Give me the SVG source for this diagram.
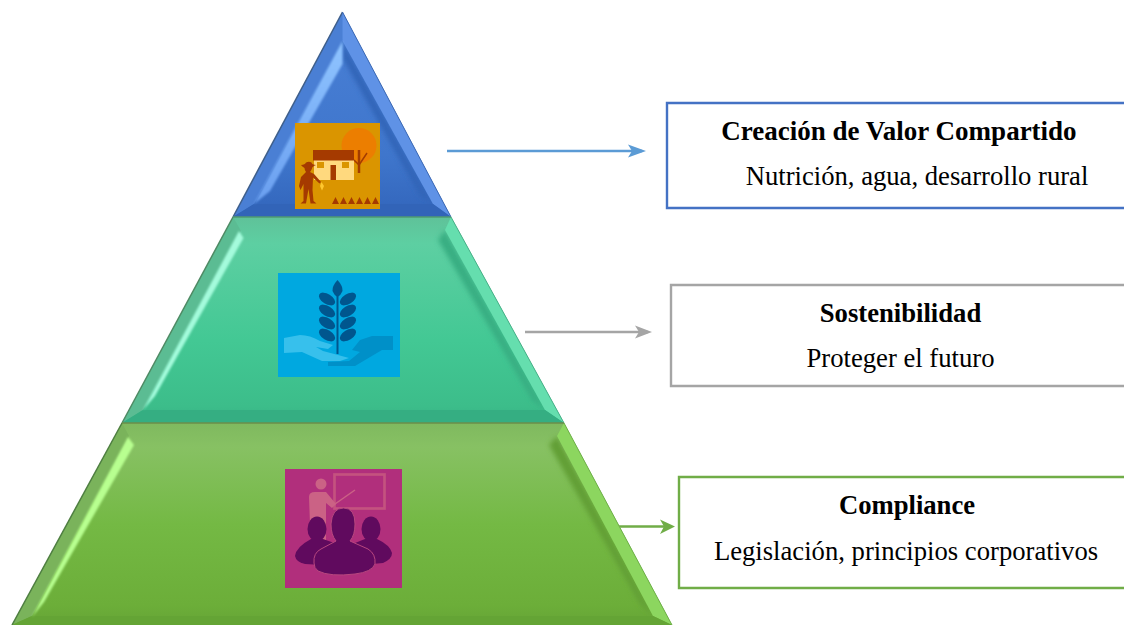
<svg xmlns="http://www.w3.org/2000/svg" width="1124" height="625" viewBox="0 0 1124 625">
<style>
text{font-family:"Liberation Serif","Times New Roman",serif;font-size:26.67px;fill:#000;text-anchor:middle}
.b{font-weight:bold}
.box{fill:#fff;stroke-width:2.4}
.c{fill:none;stroke-width:2.4}
</style>
<defs>
<linearGradient id="gb" x1="0" y1="0" x2="0" y2="1"><stop offset="0" stop-color="#4a80d6"/><stop offset=".7" stop-color="#3f76cc"/><stop offset=".93" stop-color="#3569bf"/><stop offset="1" stop-color="#2f60b4"/></linearGradient>
<linearGradient id="gt" x1="0" y1="0" x2="0" y2="1"><stop offset="0" stop-color="#5fc299"/><stop offset=".13" stop-color="#5dcfa2"/><stop offset=".6" stop-color="#43c894"/><stop offset=".92" stop-color="#3cbd8a"/><stop offset="1" stop-color="#35b083"/></linearGradient>
<linearGradient id="gg" x1="0" y1="0" x2="0" y2="1"><stop offset="0" stop-color="#7fb95f"/><stop offset=".12" stop-color="#87c163"/><stop offset=".5" stop-color="#74b944"/><stop offset=".9" stop-color="#6cae39"/><stop offset="1" stop-color="#66a536"/></linearGradient>
<linearGradient id="hb" x1="0" y1="0" x2="0" y2="1"><stop offset="0" stop-color="#8fc4ff"/><stop offset="1" stop-color="#6a9ff0"/></linearGradient>
<filter id="blur" x="-30%" y="-30%" width="160%" height="160%"><feGaussianBlur stdDeviation="1"/></filter>
<filter id="soft" x="-30%" y="-30%" width="160%" height="160%"><feGaussianBlur stdDeviation="2.500"/></filter>
</defs>
<g id="connectors">
<g stroke="#5b9bd5" fill="#5b9bd5"><path class="c" d="M447 151H642"/><path d="M628 144.500L646 151L628 157.500L632 151Z" stroke="none"/></g>
<g stroke="#a5a5a5" fill="#a5a5a5"><path class="c" d="M525 332H648"/><path d="M635 325.500L652 332L635 338.500L639 332Z" stroke="none"/></g>
<g stroke="#70ad47" fill="#70ad47"><path class="c" d="M618 526.500H671"/><path d="M660 519.500L675 526.500L660 534L664 526.500Z" stroke="none"/></g>
</g>
<g id="node-top">
<path d="M342.500 12L451 217H233Z" fill="url(#gb)"/>
<path d="M342.500 41L433 204L420 196L342.500 58Z" fill="#3365b8" filter="url(#soft)"/>
<path d="M342.500 12L342.500 41L254 204L233 217Z" fill="#4a7fd4"/>
<path d="M342.500 12L342.500 41L433 204L451 217Z" fill="#5f92e6"/>
<path d="M254 204H433L451 217H233Z" fill="#3264b8"/>
<path d="M342.500 41L254 204L270 191L342.500 64Z" fill="url(#hb)" filter="url(#blur)"/>
<path d="M342.500 12L233 217" stroke="#3f5f8a" stroke-width="1.500" fill="none"/>
<path d="M342.500 12L451 217" stroke="#3d6ab5" stroke-width="1" fill="none"/>
<g id="icon-farm">
<rect x="295" y="123" width="85" height="86" fill="#da9500"/>
<circle cx="359" cy="145.500" r="17.500" fill="#ec7e00"/>
<path d="M359 150V173" stroke="#a33c00" stroke-width="2.500"/>
<path d="M359 165L367 153M359 165L354 160" stroke="#a33c00" stroke-width="1.500" fill="none"/>
<rect x="314" y="160" width="40" height="20" fill="#ffd97e"/>
<rect x="313" y="150" width="41" height="10.500" fill="#a53a00"/>
<rect x="317" y="162" width="7" height="6" fill="#da9500"/>
<rect x="342" y="162" width="7" height="6" fill="#da9500"/>
<rect x="330.500" y="165" width="5.500" height="15" fill="#a53a00"/>
<path d="M301 165Q305 164.500 306 162.500Q309 161 311.500 162.500Q312 164.500 316 165Q312 166.500 312 168.500Q311 171 310 172L314 174L321 182L319.500 183.500L313 177.500L312.500 190L313.500 201L316.500 203.500H310.500L308.500 189L306 203.500H300.500L303.500 201L303.500 184L300.500 190L299 186L301 177L306 172Q304.500 170 304.500 168Q302 166.500 301 165Z" fill="#a53a00"/>
<path d="M321.500 182L324 186L322 190.500L320 186Z" fill="#ffc72e"/>
<path d="M332 204L335.500 197L339 204ZM340 204L343.500 197L347 204ZM348 204L351.500 197L355 204ZM356 204L359.500 197L363 204ZM364 204L367.500 197L371 204ZM372 204L375.500 197L379 204Z" fill="#a53a00"/>
</g>
</g>
<g id="node-mid">
<path d="M233 217H451L564 423H122Z" fill="url(#gt)"/>
<path d="M445 230L438 240L532 400L545 410Z" fill="#37ae82" filter="url(#soft)"/>
<path d="M233 217L241 231L143 410L122 423Z" fill="#5bbc93"/>
<path d="M451 217L445 230L545 410L564 423Z" fill="#65deae"/>
<path d="M143 410H545L564 423H122Z" fill="#35ae82"/>
<path d="M239 231L243.500 238L155 396L143 410Z" fill="#a4fbdc" filter="url(#blur)"/>
<path d="M233 217L122 423" stroke="#4f8a64" stroke-width="1.500" fill="none"/>
<path d="M451 217L564 423" stroke="#49b088" stroke-width="1" fill="none"/>
<path d="M233 217H451" stroke="#4f9a72" stroke-width="1.500"/>
<g id="icon-hands">
<rect x="278" y="273" width="122" height="104" fill="#00a8e0"/>
<path d="M284 338L300 335Q310 335 320 341L333 345L328 349L316 347L323 351L338 355L349 358L340 361L322 361L302 352L284 353Z" fill="#37c0ec"/>
<path d="M393 336V350L382 350L355 366H328V362L349 361L360 352L352 350L360 340L372 336Z" fill="#0090c8"/>
<path d="M337.500 280Q332 286 332.500 291Q334 295 337.500 297Q341 295 342.500 291Q343 286 337.500 280Z" fill="#00568e"/>
<path d="M337.500 294V354" stroke="#00568e" stroke-width="2"/>
<g fill="#00568e"><ellipse cx="327" cy="299" rx="9" ry="5" transform="rotate(32 327 299)"/><ellipse cx="327" cy="311" rx="9" ry="5" transform="rotate(32 327 311)"/><ellipse cx="327" cy="323" rx="9" ry="5" transform="rotate(32 327 323)"/><ellipse cx="327" cy="335" rx="9" ry="5" transform="rotate(32 327 335)"/><ellipse cx="348" cy="299" rx="9" ry="5" transform="rotate(-32 348 299)"/><ellipse cx="348" cy="311" rx="9" ry="5" transform="rotate(-32 348 311)"/><ellipse cx="348" cy="323" rx="9" ry="5" transform="rotate(-32 348 323)"/><ellipse cx="348" cy="335" rx="9" ry="5" transform="rotate(-32 348 335)"/></g>
</g>
</g>
<g id="node-bottom">
<path d="M122 423H564L672 625H12Z" fill="url(#gg)"/>
<path d="M557 436L549 445L640 604L653 616Z" fill="#629f35" filter="url(#soft)"/>
<path d="M122 423L129 436L32 616L12 625Z" fill="#7ab35b"/>
<path d="M557 436L564 423L672 625L653 616Z" fill="#8cd65f"/>
<path d="M32 616H653L672 625H12Z" fill="#64a435"/>
<path d="M128 437L134 445L44 602L32 617Z" fill="#b8ff90" filter="url(#blur)"/>
<path d="M122 423L12 625" stroke="#4f7f42" stroke-width="1.500" fill="none"/>
<path d="M564 423L672 625" stroke="#6fb04a" stroke-width="1" fill="none"/>
<path d="M122 423H564" stroke="#6b8e4a" stroke-width="1.500"/>
<g id="icon-people">
<rect x="285" y="469" width="117" height="119" fill="#b12f7c"/>
<rect x="334.500" y="474.500" width="50" height="34" fill="none" stroke="#c4527f" stroke-width="2.700"/>
<path d="M335 504L355 490" stroke="#cb6285" stroke-width="1.500"/>
<circle cx="321" cy="484" r="5.500" fill="#cb6285"/>
<path d="M309 497Q309 492 315 492H326L336 504L332 508L326 503V542H314L310 525Z" fill="#cb6285"/>
<g fill="#600a5e"><ellipse cx="317" cy="529" rx="9.500" ry="12.500"/><path d="M311 539Q296 547 295 556Q296 562 305 564L340 566V545L323 539Z"/><ellipse cx="371" cy="529" rx="9.500" ry="12.500"/><path d="M365 539L350 545V566L383 563Q392 559 392 553Q390 545 377 539Z"/><path d="M314 563Q313 553 321 549L336 541Q331 535 331 524Q332 508 343.500 508Q355 508 355 524Q355 535 350 541L368 549Q376 554 375 564Q372 572 355 574Q330 577 318 571Q314 568 314 563Z" stroke="#b8477f" stroke-width="1"/></g>
</g>
</g>
<g id="node-valor">
<path class="box" d="M1124 103H667V208H1124" stroke="#4472c4"/>
<text class="b" x="899" y="139.500" style="font-size:27px">Creación de Valor Compartido</text>
<text x="917" y="184.500">Nutrición, agua, desarrollo rural</text>
</g>
<g id="node-sostenibilidad">
<path class="box" d="M1124 285H671V386H1124" stroke="#a5a5a5"/>
<text class="b" x="900.500" y="321.500">Sostenibilidad</text>
<text x="900.500" y="366.500">Proteger el futuro</text>
</g>
<g id="node-compliance">
<path class="box" d="M1124 477H679V588H1124" stroke="#70ad47"/>
<text class="b" x="907" y="513.500">Compliance</text>
<text x="906" y="559.500">Legislación, principios corporativos</text>
</g>
</svg>
